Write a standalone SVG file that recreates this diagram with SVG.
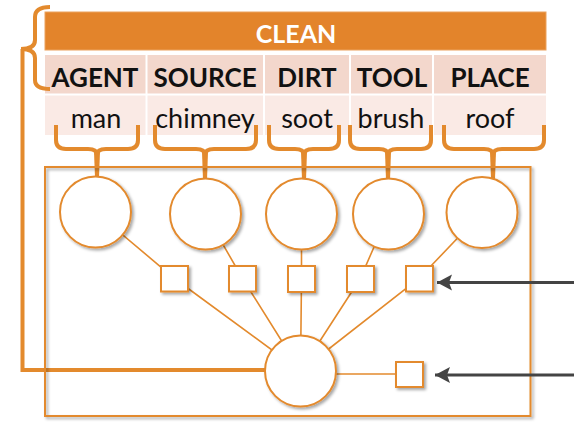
<svg xmlns="http://www.w3.org/2000/svg" width="574" height="430" viewBox="0 0 574 430">
<style>
.or{fill:none;stroke:#E38A2D}
.node{fill:#fff;stroke:#E38A2D;stroke-width:2}
.edge{stroke:#E38A2D;stroke-width:1.6;fill:none}
.brace{fill:none;stroke:#E38A2D;stroke-width:4;stroke-linecap:butt}
.hd{font-family:Lato,"Liberation Sans",sans-serif;font-weight:bold;font-size:26px;fill:#111;text-anchor:middle}
.val{font-family:Lato,"Liberation Sans",sans-serif;font-size:27px;fill:#111;text-anchor:middle}
.ttl{font-family:Lato,"Liberation Sans",sans-serif;font-weight:bold;font-size:25px;fill:#fff;text-anchor:middle}
.arr{stroke:#444;stroke-width:3;fill:none}
</style>
<defs>
<filter id="sh" x="-20%" y="-20%" width="150%" height="150%">
<feDropShadow dx="2" dy="2" stdDeviation="1.5" flood-color="#000" flood-opacity="0.35"/>
</filter>
<marker id="ah" markerWidth="16" markerHeight="18" refX="15" refY="8" orient="auto" markerUnits="userSpaceOnUse">
<path d="M0 0 L15 8 L0 16 L3 8 Z" fill="#444"/>
</marker>
</defs>
<rect width="574" height="430" fill="#fff"/>

<g id="frame">
<rect x="45" y="12" width="501" height="38" fill="#E3842B" stroke="#EBA25E" stroke-width="1"/>
<text class="ttl" x="296" y="43">CLEAN</text>
<rect x="45" y="55" width="501" height="39" fill="#F3D7CC"/>
<rect x="45" y="95" width="501" height="40" fill="#FAEAE5"/>
<g stroke="#fff" stroke-width="2">
<line x1="146.5" y1="55" x2="146.5" y2="135"/>
<line x1="264" y1="55" x2="264" y2="135"/>
<line x1="350" y1="55" x2="350" y2="135"/>
<line x1="433" y1="55" x2="433" y2="135"/>
<line x1="45" y1="94.5" x2="546" y2="94.5"/>
</g>
<text class="hd" x="95" y="87">AGENT</text>
<text class="hd" x="205" y="87">SOURCE</text>
<text class="hd" x="307" y="87">DIRT</text>
<text class="hd" x="392" y="87">TOOL</text>
<text class="hd" x="490" y="87">PLACE</text>
<text class="val" x="96" y="128">man</text>
<text class="val" x="205" y="128">chimney</text>
<text class="val" x="307" y="128">soot</text>
<text class="val" x="391" y="128">brush</text>
<text class="val" x="490" y="128">roof</text>
</g>

<g id="braces">
<path class="brace" d="M50 7 Q35 7 35 17 L35 40 Q35 49 21 49 Q35 49 35 58 L35 80 Q35 89 50 89"/>
<path class="brace" d="M22.5 49 V370 H266" stroke-width="5"/>
<g fill="#E38A2D">
<path class="brace" d="M56 125 V140 Q56 149 66 149 H88 Q97 149 97 155"/>
<path class="brace" d="M138 125 V140 Q138 149 128 149 H106 Q97 149 97 155"/>
<path d="M94 152 L100 152 L99 177 L95 177 Z"/>
<path class="brace" d="M155 125 V140 Q155 149 165 149 H196 Q205 149 205 155"/>
<path class="brace" d="M256 125 V140 Q256 149 246 149 H214 Q205 149 205 155"/>
<path d="M202 152 L208 152 L207 180 L203 180 Z"/>
<path class="brace" d="M269 125 V140 Q269 149 279 149 H295 Q304 149 304 155"/>
<path class="brace" d="M339 125 V140 Q339 149 329 149 H313 Q304 149 304 155"/>
<path d="M301 152 L307 152 L306 180 L302 180 Z"/>
<path class="brace" d="M350 125 V140 Q350 149 360 149 H379 Q388 149 388 155"/>
<path class="brace" d="M431 125 V140 Q431 149 421 149 H397 Q388 149 388 155"/>
<path d="M385 152 L391 152 L390 180 L386 180 Z"/>
<path class="brace" d="M444 125 V140 Q444 149 454 149 H484 Q493 149 493 155"/>
<path class="brace" d="M544 125 V140 Q544 149 534 149 H502 Q493 149 493 155"/>
<path d="M490 152 L496 152 L495 179 L491 179 Z"/>
</g>
</g>

<g id="plate">
<rect x="45" y="167" width="485.5" height="249" fill="none" stroke="#E38A2D" stroke-width="2" filter="url(#sh)"/>
</g>

<g id="connectors">
<path class="edge" d="M95.5 212 L174.5 278.5 L300.5 371"/>
<path class="edge" d="M205.5 214 L242.5 278.5 L300.5 371"/>
<path class="edge" d="M301.5 214 L301.5 279 L300.5 371"/>
<path class="edge" d="M388.5 214 L360 279 L300.5 371"/>
<path class="edge" d="M482 212.5 L419 278.5 L300.5 371"/>
<path class="edge" d="M300 374 H410"/>
<line class="arr" x1="574" y1="282.5" x2="437" y2="282.5" marker-end="url(#ah)"/>
<line class="arr" x1="574" y1="375" x2="435" y2="375" marker-end="url(#ah)"/>
</g>
<g id="c1"><circle class="node" cx="95.5" cy="212" r="35.5" filter="url(#sh)"/></g>
<g id="c2"><circle class="node" cx="205.5" cy="214" r="35.5" filter="url(#sh)"/></g>
<g id="c3"><circle class="node" cx="301.5" cy="214" r="35.5" filter="url(#sh)"/></g>
<g id="c4"><circle class="node" cx="388.5" cy="214" r="35.5" filter="url(#sh)"/></g>
<g id="c5"><circle class="node" cx="482" cy="212.5" r="35.5" filter="url(#sh)"/></g>
<g id="s1"><rect class="node" x="161" y="266" width="27" height="25.5" filter="url(#sh)"/></g>
<g id="s2"><rect class="node" x="229" y="266" width="27" height="25.5" filter="url(#sh)"/></g>
<g id="s3"><rect class="node" x="288" y="266" width="27" height="26" filter="url(#sh)"/></g>
<g id="s4"><rect class="node" x="347" y="266" width="27" height="26" filter="url(#sh)"/></g>
<g id="s5"><rect class="node" x="406" y="266" width="27" height="25.5" filter="url(#sh)"/></g>
<g id="cb"><circle class="node" cx="300.5" cy="371" r="35.5" filter="url(#sh)"/></g>
<g id="sb"><rect class="node" x="396" y="362" width="27" height="25" filter="url(#sh)"/></g>
</svg>
